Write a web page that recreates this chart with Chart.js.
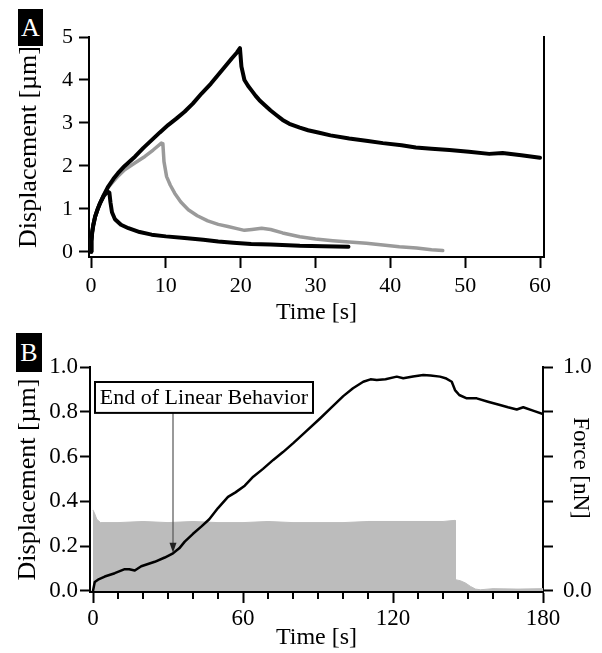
<!DOCTYPE html>
<html>
<head>
<meta charset="utf-8">
<script src="https://cdn.jsdelivr.net/npm/chart.js@4.4.1/dist/chart.umd.min.js"></script>
<style>
  html, body { margin: 0; padding: 0; background: #fff; }
  #page { position: relative; width: 602px; height: 653px; overflow: hidden; }
  canvas { position: absolute; left: 0; }
  #chartA { top: 0; }
  #chartB { top: 325px; }
  .tag { position: absolute; background: #000; color: #fff; font-family: 'Liberation Serif', serif; text-align: center; }
</style>
</head>
<body>
<div id="page">
  <canvas id="chartA" width="602" height="335"></canvas>
  <canvas id="chartB" width="602" height="328"></canvas>
  <div class="tag" style="left:18px;top:9px;width:25px;height:37px;font-size:26px;line-height:38px;">A</div>
  <div class="tag" style="left:16px;top:333px;width:26px;height:39px;font-size:26px;line-height:40px;">B</div>
</div>
<script>
// ---- panel A: creep curves, three loading times ----
const timeA1 = [0, 0.05, 0.15, 0.3, 0.55, 0.9, 1.2, 1.7, 2.3, 3.0, 3.6, 4.5, 5.9, 7.0, 8.1, 9.2, 10.3, 11.4, 12.5, 13.6,
  14.8, 16.0, 17.0, 18.0, 18.8, 19.5, 19.9, 20.1, 20.5, 21.0, 21.4, 22.0, 22.5, 23.3, 24.0, 24.8, 25.6, 26.5, 27.9, 29.0,
  30.5, 32.0, 34.5, 37.0, 39.0, 41.5, 43.4, 45.5, 47.9, 50.5, 53.2, 55.0, 57.5, 60.0];
const dispA1 = [0, 0.25, 0.45, 0.62, 0.82, 1.0, 1.13, 1.32, 1.52, 1.70, 1.83, 2.0, 2.22, 2.42, 2.6, 2.78, 2.95, 3.1, 3.26, 3.45,
  3.69, 3.91, 4.12, 4.33, 4.5, 4.64, 4.74, 4.31, 4.0, 3.86, 3.77, 3.63, 3.53, 3.4, 3.29, 3.18, 3.07, 2.98, 2.89, 2.83,
  2.77, 2.71, 2.64, 2.58, 2.53, 2.48, 2.43, 2.4, 2.37, 2.33, 2.28, 2.3, 2.25, 2.19];

const timeA2 = [0, 0.05, 0.15, 0.3, 0.55, 0.9, 1.2, 1.7, 2.3, 2.7, 3.5, 4.5, 5.8, 7.2, 8.3, 9.4, 9.6, 9.75, 10.1, 10.6,
  11.2, 12.0, 13.0, 14.2, 15.6, 17.0, 18.3, 19.5, 20.5, 21.5, 22.8, 24.0, 25.6, 27.9, 30.0, 32.3, 34.5, 36.8, 39.0, 41.2,
  43.5, 45.5, 47.0];
const dispA2 = [0, 0.25, 0.45, 0.62, 0.82, 1.0, 1.13, 1.32, 1.5, 1.58, 1.74, 1.91, 2.06, 2.22, 2.37, 2.53, 2.52, 2.1, 1.75, 1.55,
  1.36, 1.16, 0.98, 0.84, 0.72, 0.64, 0.59, 0.54, 0.5, 0.52, 0.55, 0.52, 0.44, 0.35, 0.3, 0.26, 0.23, 0.2, 0.16, 0.12,
  0.09, 0.05, 0.03];

const timeA3 = [0, 0.05, 0.15, 0.3, 0.55, 0.9, 1.2, 1.7, 2.2, 2.45, 2.6, 2.8, 3.2, 4.0, 5.0, 6.5, 8.1, 10.0, 12.5, 15.0,
  17.0, 19.0, 21.4, 24.0, 27.9, 31.0, 34.4];
const dispA3 = [0, 0.25, 0.45, 0.62, 0.82, 1.0, 1.13, 1.3, 1.4, 1.38, 1.15, 0.92, 0.76, 0.63, 0.55, 0.46, 0.4, 0.36, 0.32, 0.28,
  0.24, 0.21, 0.18, 0.17, 0.14, 0.13, 0.12];

const ticksAx = [0, 10, 20, 30, 40, 50, 60];
const ticksAy = [0, 1, 2, 3, 4, 5];

// ---- panel B: displacement + applied force ----
const timeB = [0, 0.7, 2, 4.7, 8.7, 12.7, 14.5, 16.7, 19.3, 22, 24.7, 28.7, 32, 34.5, 36.7, 40, 43.3, 46.5, 50, 54,
  57, 60.7, 64.1, 68, 72.1, 76, 80.1, 85, 90.8, 95, 100.1, 104, 108.1, 111, 113.5, 117, 121.5, 124.1, 128, 132.1,
  135, 138.8, 141, 143.5, 144.8, 146.5, 149.5, 153.5, 158, 162.8, 166, 169.5, 172.1, 176, 180];
const dispB = [0, 0.04, 0.05, 0.064, 0.079, 0.097, 0.097, 0.091, 0.11, 0.12, 0.13, 0.149, 0.168, 0.19, 0.22, 0.255, 0.287, 0.32, 0.37, 0.42,
  0.44, 0.47, 0.51, 0.545, 0.585, 0.62, 0.66, 0.71, 0.77, 0.815, 0.87, 0.905, 0.934, 0.945, 0.942, 0.945, 0.957, 0.95, 0.958, 0.964,
  0.962, 0.957, 0.95, 0.934, 0.897, 0.875, 0.86, 0.86, 0.845, 0.83, 0.82, 0.81, 0.82, 0.805, 0.79];

const timeF = [0, 0.5, 1.5, 3, 10, 20, 30, 40, 50, 60, 70, 80, 90, 100, 110, 120, 130, 140, 144.8, 145,
  147, 149, 151, 153, 155, 160, 170, 180];
const forceF = [0.36, 0.35, 0.32, 0.305, 0.305, 0.31, 0.305, 0.31, 0.305, 0.305, 0.31, 0.305, 0.305, 0.305, 0.31, 0.31, 0.31, 0.31, 0.315, 0.05,
  0.045, 0.035, 0.02, 0.008, 0.005, 0.01, 0.008, 0.01];

const ticksBx = [0, 60, 120, 180];
const minorTicksB = [10, 20, 30, 40, 50, 70, 80, 90, 100, 110, 130, 140, 150, 160, 170];
const ticksBy = [0, 0.2, 0.4, 0.6, 0.8, 1.0];
const labelledForceTicks = [0, 1.0];

// annotation (data coords)
const noteText = 'End of Linear Behavior';
const noteBoxX = [0.8, 88];
const noteBoxY = [0.933, 0.795];
const noteArrow = { x: 32, y: 0.17 };

Chart.defaults.font.family = "'Liberation Serif', 'Times New Roman', serif";
Chart.defaults.color = '#000';

function pts(xs, ys) {
  return xs.map((x, i) => ({ x: x, y: ys[i] }));
}

function fixedTicks(vals) {
  return s => { s.ticks = vals.map(v => ({ value: v })); };
}

function axisLook(tl) {
  return {
    grid: { drawOnChartArea: false, drawTicks: true, tickLength: tl, tickWidth: 2, tickColor: '#000' },
    border: { display: true, color: '#000', width: 2 }
  };
}

const baseOpts = {
  responsive: false,
  animation: false,
  devicePixelRatio: 1,
  elements: { point: { radius: 0 }, line: { tension: 0, borderJoinStyle: 'round', borderCapStyle: 'round' } },
  plugins: { legend: { display: false }, tooltip: { enabled: false } }
};

// Panel A
new Chart(document.getElementById('chartA'), {
  type: 'line',
  data: {
    datasets: [
      { data: pts(timeA1, dispA1), borderColor: '#000', borderWidth: 4, order: 0 },
      { data: pts(timeA3, dispA3), borderColor: '#000', borderWidth: 4, order: 1 },
      { data: pts(timeA2, dispA2), borderColor: '#9a9a9a', borderWidth: 3.5, order: 2 }
    ]
  },
  options: {
    ...baseOpts,
    layout: { padding: { top: 37, left: 0, right: 0, bottom: 0 } },
    scales: {
      x: {
        type: 'linear', position: 'bottom', min: -0.27, max: 60.53,
        afterBuildTicks: fixedTicks(ticksAx),
        ticks: { padding: 5, font: { size: 22 }, maxRotation: 0, autoSkip: false },
        title: { display: true, text: 'Time [s]', font: { size: 24 }, padding: { top: 0, bottom: 8 } },
        ...axisLook(11),
        afterFit: s => { s.height = 78; }
      },
      y: {
        position: 'left', min: -0.12, max: 5,
        afterBuildTicks: fixedTicks(ticksAy),
        ticks: { padding: 6, font: { size: 22 } },
        title: { display: true, text: 'Displacement [µm]', font: { size: 26 }, padding: { top: 14, bottom: 0 } },
        ...axisLook(10),
        afterFit: s => { s.width = 89; }
      },
      yR: {
        position: 'right', min: -0.12, max: 5,
        ticks: { display: false },
        grid: { display: false },
        border: { display: true, color: '#000', width: 2 },
        afterFit: s => { s.width = 58; }
      }
    }
  }
});

// minor ticks on B's time axis
const minorTicks = {
  id: 'minorTicks',
  afterDraw(chart) {
    const xs = chart.scales.x;
    const ctx = chart.ctx;
    ctx.save();
    ctx.strokeStyle = '#000';
    ctx.lineWidth = 2;
    minorTicksB.forEach(v => {
      const px = Math.round(xs.getPixelForValue(v));
      ctx.beginPath();
      ctx.moveTo(px, xs.top);
      ctx.lineTo(px, xs.top + 7);
      ctx.stroke();
    });
    ctx.restore();
  }
};

// boxed label with arrow
const noteBox = {
  id: 'noteBox',
  afterDatasetsDraw(chart) {
    const { ctx, scales: { x, y } } = chart;
    const l = x.getPixelForValue(noteBoxX[0]), r = x.getPixelForValue(noteBoxX[1]);
    const t = y.getPixelForValue(noteBoxY[0]), b = y.getPixelForValue(noteBoxY[1]);
    const ax = x.getPixelForValue(noteArrow.x), ay = y.getPixelForValue(noteArrow.y);
    ctx.save();
    // arrow shaft
    ctx.strokeStyle = '#555';
    ctx.lineWidth = 1.2;
    ctx.beginPath();
    ctx.moveTo(ax, b);
    ctx.lineTo(ax, ay - 6);
    ctx.stroke();
    ctx.fillStyle = '#222';
    ctx.beginPath();
    ctx.moveTo(ax, ay);
    ctx.lineTo(ax - 3.5, ay - 10);
    ctx.lineTo(ax + 3.5, ay - 10);
    ctx.closePath();
    ctx.fill();
    // box
    ctx.fillStyle = '#fff';
    ctx.fillRect(l, t, r - l, b - t);
    ctx.strokeStyle = '#000';
    ctx.lineWidth = 2;
    ctx.strokeRect(l, t, r - l, b - t);
    ctx.fillStyle = '#000';
    ctx.font = "22px 'Liberation Serif', serif";
    ctx.textAlign = 'center';
    ctx.textBaseline = 'middle';
    ctx.fillText(noteText, (l + r) / 2, (t + b) / 2 + 1);
    ctx.restore();
  }
};

// Panel B
new Chart(document.getElementById('chartB'), {
  type: 'line',
  data: {
    datasets: [
      { data: pts(timeB, dispB), borderColor: '#000', borderWidth: 2.5, yAxisID: 'y', order: 0 },
      { data: pts(timeF, forceF), borderColor: '#bcbcbc', borderWidth: 1, backgroundColor: '#bcbcbc',
        fill: 'origin', yAxisID: 'y2', order: 1 }
    ]
  },
  options: {
    ...baseOpts,
    layout: { padding: { top: 42, left: 0, right: 0, bottom: 0 } },
    scales: {
      x: {
        type: 'linear', position: 'bottom', min: -1.2, max: 180,
        afterBuildTicks: fixedTicks(ticksBx),
        ticks: { padding: 2, font: { size: 23 }, maxRotation: 0, autoSkip: false },
        title: { display: true, text: 'Time [s]', font: { size: 24 }, padding: { top: 0, bottom: 1 } },
        ...axisLook(11),
        afterFit: s => { s.height = 61; }
      },
      y: {
        position: 'left', min: -0.005, max: 1.0,
        afterBuildTicks: fixedTicks(ticksBy),
        ticks: { padding: 2, font: { size: 23 }, callback: v => v.toFixed(1) },
        title: { display: true, text: 'Displacement [µm]', font: { size: 26 }, padding: { top: 13, bottom: 0 } },
        ...axisLook(10),
        afterFit: s => { s.width = 90; }
      },
      y2: {
        position: 'right', min: -0.005, max: 1.0,
        afterBuildTicks: fixedTicks(ticksBy),
        ticks: {
          padding: 10, font: { size: 23 },
          callback: v => labelledForceTicks.some(t => Math.abs(t - v) < 1e-6) ? v.toFixed(1) : ''
        },
        // trailing no-break spaces lift the rotated title a little, as in the original
        title: { display: true, text: 'Force [nN]\u00a0\u00a0\u00a0\u00a0', font: { size: 23 }, padding: { top: 8, bottom: 0 } },
        ...axisLook(10),
        afterFit: s => { s.width = 59; }
      }
    }
  },
  plugins: [minorTicks, noteBox]
});
</script>
</body>
</html>
